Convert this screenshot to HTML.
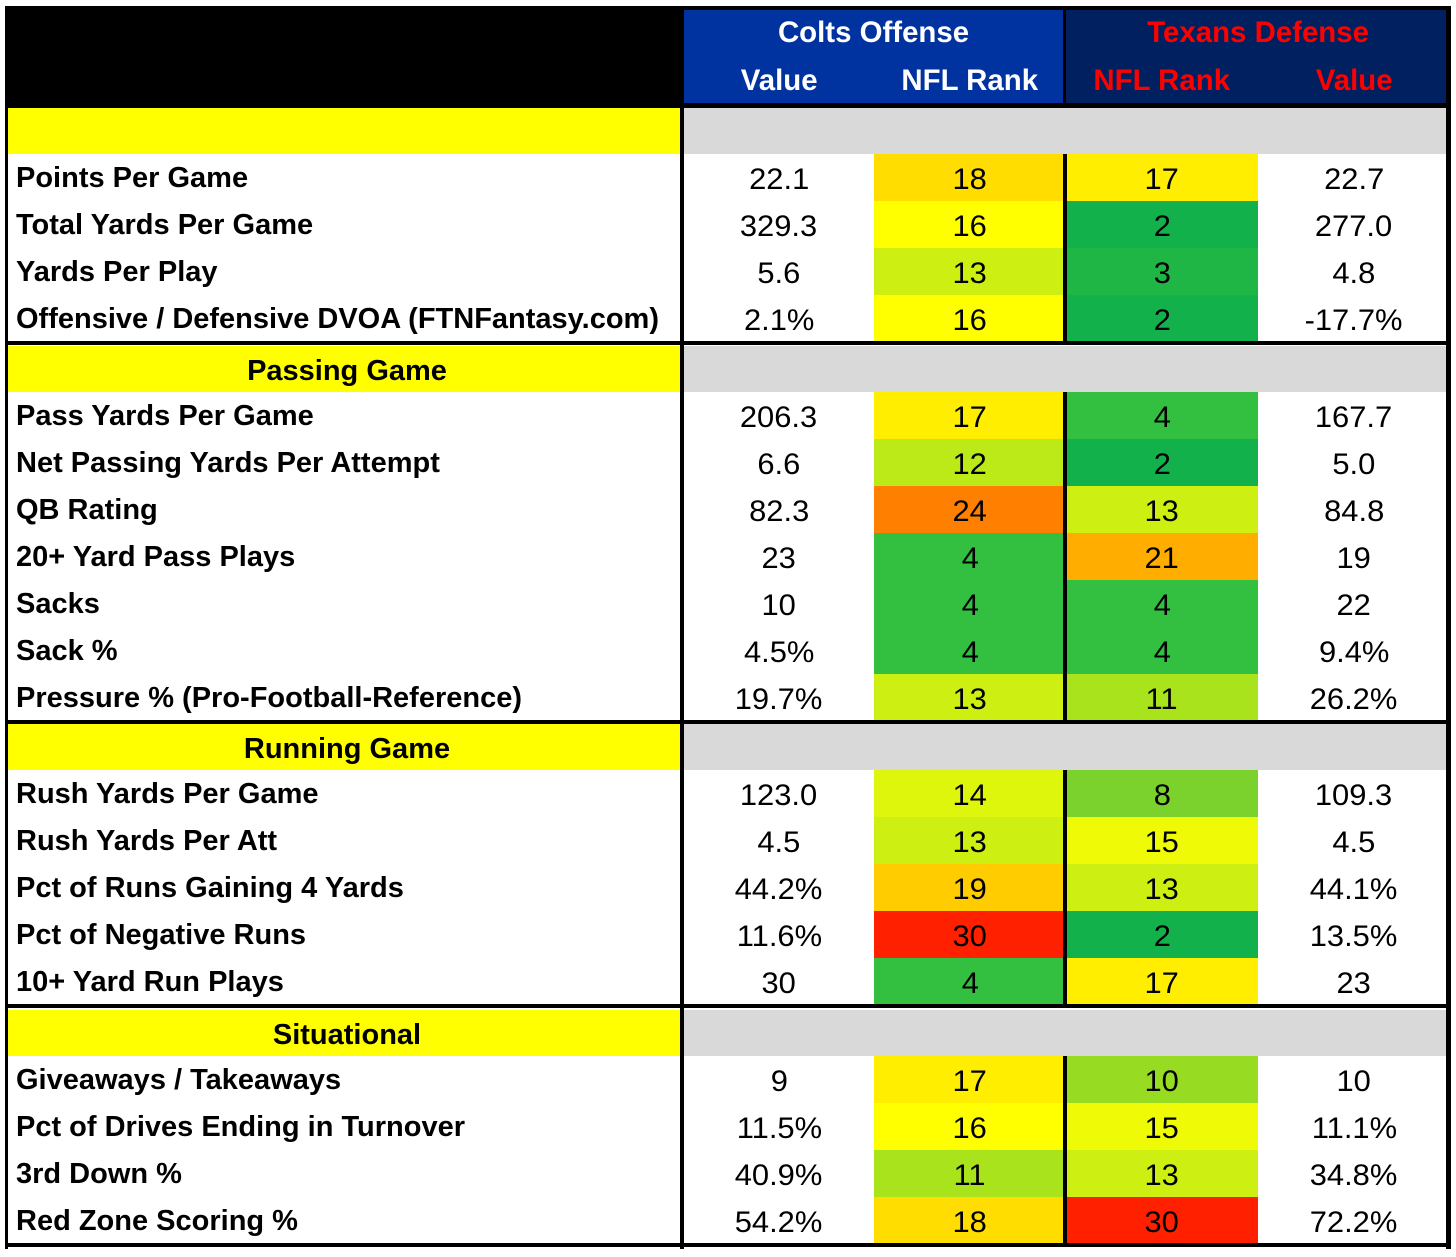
<!DOCTYPE html>
<html><head><meta charset="utf-8">
<style>
html,body{margin:0;padding:0;background:#fff;}
#root{position:relative;width:1456px;height:1257px;overflow:hidden;font-family:"Liberation Sans",Arial,sans-serif;}
.a{position:absolute;box-sizing:border-box;}
.t{position:absolute;white-space:nowrap;line-height:1;}
</style></head>
<body>
<div id="root"></div>
<script>
// data
const sections = ["", "Passing Game", "Running Game", "Situational"];
const labels = [
 ["Points Per Game","Total Yards Per Game","Yards Per Play","Offensive / Defensive DVOA (FTNFantasy.com)"],
 ["Pass Yards Per Game","Net Passing Yards Per Attempt","QB Rating","20+ Yard Pass Plays","Sacks","Sack %","Pressure % (Pro-Football-Reference)"],
 ["Rush Yards Per Game","Rush Yards Per Att","Pct of Runs Gaining 4 Yards","Pct of Negative Runs","10+ Yard Run Plays"],
 ["Giveaways / Takeaways","Pct of Drives Ending in Turnover","3rd Down %","Red Zone Scoring %"]
];
const coltsValues = [["22.1","329.3","5.6","2.1%"],["206.3","6.6","82.3","23","10","4.5%","19.7%"],["123.0","4.5","44.2%","11.6%","30"],["9","11.5%","40.9%","54.2%"]];
const coltsRanks = [[18,16,13,16],[17,12,24,4,4,4,13],[14,13,19,30,4],[17,16,11,18]];
const texansRanks = [[17,2,3,2],[4,2,13,21,4,4,11],[8,15,13,2,17],[10,15,13,30]];
const texansValues = [["22.7","277.0","4.8","-17.7%"],["167.7","5.0","84.8","19","22","9.4%","26.2%"],["109.3","4.5","44.1%","13.5%","23"],["10","11.1%","34.8%","72.2%"]];

const rankColors = {2:"#12b14b",3:"#1fb646",4:"#33bf40",8:"#7bd22c",10:"#97dc22",11:"#a8e31b",12:"#bce918",13:"#cdef12",14:"#def50c",15:"#eefa06",16:"#ffff00",17:"#ffee00",18:"#ffdd00",19:"#ffcc00",21:"#ffae00",24:"#ff8000",30:"#ff2000"};
function rankColor(r){
  if(rankColors[r]) return rankColors[r];
  const ks=Object.keys(rankColors).map(Number).sort((a,b)=>a-b);
  let best=ks[0]; for(const k of ks){ if(Math.abs(k-r)<Math.abs(best-r)) best=k; } return rankColors[best];
}

const root=document.getElementById('root');
function box(x,y,w,h,bg,name){
  const d=document.createElement('div'); d.className='a';
  d.style.left=x+'px';d.style.top=y+'px';d.style.width=w+'px';d.style.height=h+'px';d.style.background=bg;
  
  
  root.appendChild(d); return d;
}
function text(str,x,cy,align,size,weight,color,name,sc){
  const s=document.createElement('div'); s.className='t';
  s.textContent=str; s.style.fontSize=size+'px'; s.style.fontWeight=weight; s.style.color=color;
  s.style.top=(cy-size*0.52)+'px';
  
  
  root.appendChild(s);
  const w=s.getBoundingClientRect().width;
  if(align==='left'){ s.style.left=x+'px'; s.style.transformOrigin='0 50%'; }
  else { s.style.left=(x-w/2)+'px'; s.style.transformOrigin='50% 50%'; }
  s.style.transform='scaleX('+sc+')';
  return s;
}
const LS=1.0, NS=1.03, HS=0.98;

const X0=7, XL=680, XV1=684, XR1=874, XD=1063, XR2=1067, XV2=1258, XE=1446;
// header
box(5,6,1446,102,"#000","header-background");
box(XV1,10,XD-XV1,93,"#0033a0","colts-header");
box(1066,10,XE-1066,93,"#002060","texans-header");
text("Colts Offense",874,34,'center',30,'bold','#fff','colts-offense-title',HS);
text("Value",779,82,'center',30,'bold','#fff','colts-value-header',HS);
text("NFL Rank",970,82,'center',30,'bold','#fff','colts-rank-header',HS);
text("Texans Defense",1258,34,'center',30,'bold','#ff0000','texans-defense-title',HS);
text("NFL Rank",1162,82,'center',30,'bold','#ff0000','texans-rank-header',HS);
text("Value",1354,82,'center',30,'bold','#ff0000','texans-value-header',HS);

const RH=47;
let y=108;
const sectionTops=[108,346,724,1010];
for(let s=0;s<sections.length;s++){
  y=sectionTops[s];
  box(X0,y,XL-X0,46,"#ffff00","section-label-"+(s+1));
  box(XV1,y,XE-XV1,46,"#d9d9d9","section-gray-"+(s+1));
  if(sections[s]) text(sections[s],347,y+26,'center',29,'bold','#000','section-title-'+(s+1),LS);
  y+=46;
  const n=labels[s].length;
  const top=y;
  for(let i=0;i<n;i++){
    const ry=top+i*RH, cy=ry+RH/2+3;
    box(X0,ry,XL-X0,RH,"#fff","row-label-cell");
    box(XV1,ry,XR1-XV1,RH,"#fff","colts-value-cell");
    box(XR1,ry,XD-XR1,RH,rankColor(coltsRanks[s][i]),"colts-rank-cell");
    box(XR2,ry,XV2-XR2,RH,rankColor(texansRanks[s][i]),"texans-rank-cell");
    box(XV2,ry,XE-XV2,RH,"#fff","texans-value-cell");
    text(labels[s][i],16,cy-1,'left',29,'bold','#000','row-label',LS);
    text(coltsValues[s][i],779,cy,'center',30,'normal','#000','colts-value',NS);
    text(String(coltsRanks[s][i]),970,cy,'center',30,'normal','#000','colts-rank',NS);
    text(String(texansRanks[s][i]),1162,cy,'center',30,'normal','#000','texans-rank',NS);
    text(texansValues[s][i],1354,cy,'center',30,'normal','#000','texans-value',NS);
  }
  const bottom=top+n*RH;
  box(XD,top,4,bottom-top,"#000","rank-divider");
  box(5,bottom-1,1446,4,"#000","section-border");
}
// vertical lines
box(5,6,3,1243,"#000","left-border");
box(1446,6,5,1243,"#000","right-border");
box(XL,6,4,1243,"#000","label-divider");
</script>
</body></html>
